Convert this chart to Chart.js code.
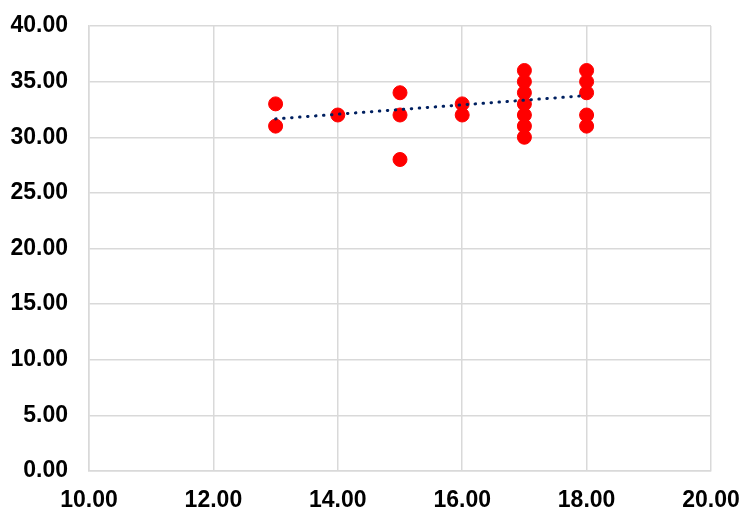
<!DOCTYPE html>
<html>
<head>
<meta charset="utf-8">
<script src="https://cdn.jsdelivr.net/npm/chart.js@4/dist/chart.umd.min.js"></script>
<style>
  html, body { margin: 0; padding: 0; background: #fff; }
  #wrap { width: 743px; height: 510px; }
</style>
</head>
<body>
<div id="wrap"><canvas id="chart" width="743" height="510"></canvas></div>
<script>
const pointX = [13, 13, 14, 15, 15, 15, 16, 16, 17, 17, 17, 17, 17, 17, 17, 18, 18, 18, 18, 18];
const pointY = [33, 31, 32, 34, 32, 28, 33, 32, 36, 35, 34, 33, 32, 31, 30, 36, 35, 34, 32, 31];

// Linear trendline ends, as drawn in the reference
const trendX = [13, 18];
const trendY = [31.65, 33.75];

const xTicks = [10, 12, 14, 16, 18, 20];
const yTicks = [0, 5, 10, 15, 20, 25, 30, 35, 40];

const gridColor = '#d9d9d9';
const tickFont = {family: 'Liberation Sans, Arial, sans-serif', size: 23, weight: 'bold', lineHeight: 1};

new Chart(document.getElementById('chart'), {
    type: 'scatter',
    data: {
        datasets: [
            {
                label: 'Data',
                data: pointX.map((x, i) => ({x: x, y: pointY[i]})),
                backgroundColor: '#ff0000',
                borderColor: '#ff0000',
                pointRadius: 7,
                pointHoverRadius: 7,
                order: 1
            },
            {
                label: 'Trend',
                type: 'line',
                data: trendX.map((x, i) => ({x: x, y: trendY[i]})),
                borderColor: '#002060',
                borderWidth: 3,
                borderDash: [0.5, 7.5],
                borderCapStyle: 'round',
                pointRadius: 0,
                fill: false,
                order: 0
            }
        ]
    },
    options: {
        responsive: false,
        animation: false,
        layout: {padding: {left: 0, right: 32, top: 26, bottom: 0}},
        plugins: {
            legend: {display: false},
            tooltip: {enabled: false}
        },
        scales: {
            x: {
                type: 'linear',
                min: 10,
                max: 20,
                afterBuildTicks: axis => { axis.ticks = xTicks.map(v => ({value: v})); },
                afterFit: axis => {
                    axis.height = 39;
                    axis.paddingLeft = 0;
                    axis.paddingRight = 0;
                },
                grid: {color: gridColor, lineWidth: 1.5, drawTicks: false},
                border: {color: gridColor, width: 1.5},
                ticks: {
                    color: '#000',
                    font: tickFont,
                    padding: 18,
                    maxRotation: 0,
                    callback: v => v.toFixed(2)
                }
            },
            y: {
                type: 'linear',
                min: 0,
                max: 40,
                afterBuildTicks: axis => { axis.ticks = yTicks.map(v => ({value: v})); },
                afterFit: axis => {
                    axis.width = 89;
                    axis.paddingTop = 0;
                    axis.paddingBottom = 0;
                },
                grid: {color: gridColor, lineWidth: 1.5, drawTicks: false},
                border: {color: gridColor, width: 1.5},
                ticks: {
                    color: '#000',
                    font: tickFont,
                    padding: 21,
                    callback: v => v.toFixed(2)
                }
            }
        }
    }
});
</script>
</body>
</html>
